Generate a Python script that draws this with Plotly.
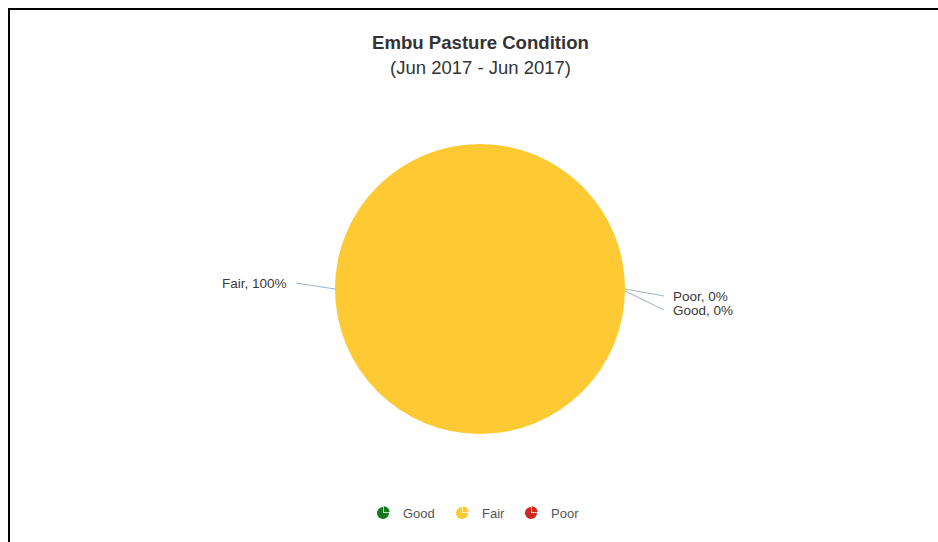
import plotly.graph_objects as go

# ---- data ----
categories = ["Good", "Fair", "Poor"]
values = [0, 100, 0]
colors = ["#157a1c", "#fdca33", "#d0281e"]
title_text = "Embu Pasture Condition"
subtitle_text = "(Jun 2017 - Jun 2017)"

W, H = 938, 542

def px(x):
    return x / W

def py(y):
    return 1 - y / H

fig = go.Figure()

# main pie
cx, cy, R = 480, 289, 145
fig.add_trace(go.Pie(
    labels=categories, values=values, sort=False, direction="clockwise",
    rotation=0, marker=dict(colors=colors, line=dict(width=0)),
    textinfo="none", hoverinfo="label+percent", showlegend=False,
    domain=dict(x=[px(cx - R), px(cx + R)], y=[py(cy + R), py(cy - R)]),
))

# data labels with connectors
total = sum(values)
label_specs = {
    "Fair": dict(start=(cx - R, cy), end=(296, 283), side="left"),
    "Poor": dict(start=(cx + R, cy), end=(664, 296), side="right"),
    "Good": dict(start=(cx + R, cy + 2), end=(664, 310), side="right"),
}
annotations = []
shapes = []
for cat, v in zip(categories, values):
    spec = label_specs[cat]
    pct = round(100 * v / total)
    (x0, y0), (x1, y1) = spec["start"], spec["end"]
    shapes.append(dict(type="path", xref="paper", yref="paper",
                       path=f"M {px(x0)} {py(y0)} L {px(x1)} {py(y1)}",
                       line=dict(color="#9fb3c3", width=1)))
    if spec["side"] == "left":
        annotations.append(dict(x=px(x1 - 7), y=py(y1), xref="paper", yref="paper",
                                text=f"{cat}, {pct}%", showarrow=False,
                                xanchor="right", yanchor="middle",
                                font=dict(family="Liberation Sans", size=13.5, color="#3a3a3a")))
    else:
        annotations.append(dict(x=px(x1 + 7), y=py(y1), xref="paper", yref="paper",
                                text=f"{cat}, {pct}%", showarrow=False,
                                xanchor="left", yanchor="middle",
                                font=dict(family="Liberation Sans", size=13.5, color="#3a3a3a")))

# titles
annotations.append(dict(x=px(480), y=py(42), xref="paper", yref="paper",
                        text=f"<b>{title_text}</b>", showarrow=False,
                        xanchor="center", yanchor="middle",
                        font=dict(family="Liberation Sans", size=18.6, color="#333")))
annotations.append(dict(x=px(480), y=py(67), xref="paper", yref="paper",
                        text=subtitle_text, showarrow=False,
                        xanchor="center", yanchor="middle",
                        font=dict(family="Liberation Sans", size=18.5, color="#333")))

# custom legend: pie-shaped icons + text
legend_icon_x = [383, 462, 531]
legend_y = 513
icon_r = 7
for cat, col, ix in zip(categories, colors, legend_icon_x):
    fig.add_trace(go.Pie(
        values=[1, 3], labels=[cat + " a", cat + " b"], sort=False,
        direction="clockwise", rotation=0, pull=[0.16, 0],
        marker=dict(colors=[col, col], line=dict(width=0)),
        textinfo="none", hoverinfo="skip", showlegend=False,
        domain=dict(x=[px(ix - icon_r), px(ix + icon_r)],
                    y=[py(legend_y + icon_r), py(legend_y - icon_r)]),
    ))
    annotations.append(dict(x=px(ix + 18), y=py(legend_y), xref="paper", yref="paper",
                            text=cat, showarrow=False, xanchor="left", yanchor="middle",
                            font=dict(family="Liberation Sans", size=13, color="#555")))

# border (left and top)
shapes.append(dict(type="line", xref="paper", yref="paper",
                   x0=px(8), x1=px(938), y0=py(9), y1=py(9),
                   line=dict(color="#000", width=2)))
shapes.append(dict(type="line", xref="paper", yref="paper",
                   x0=px(9), x1=px(9), y0=py(8), y1=py(542),
                   line=dict(color="#000", width=2)))

fig.update_layout(
    width=W, height=H, margin=dict(l=0, r=0, t=0, b=0),
    paper_bgcolor="white", plot_bgcolor="white",
    annotations=annotations, shapes=shapes, showlegend=False,
)

fig.write_html("out.html")
